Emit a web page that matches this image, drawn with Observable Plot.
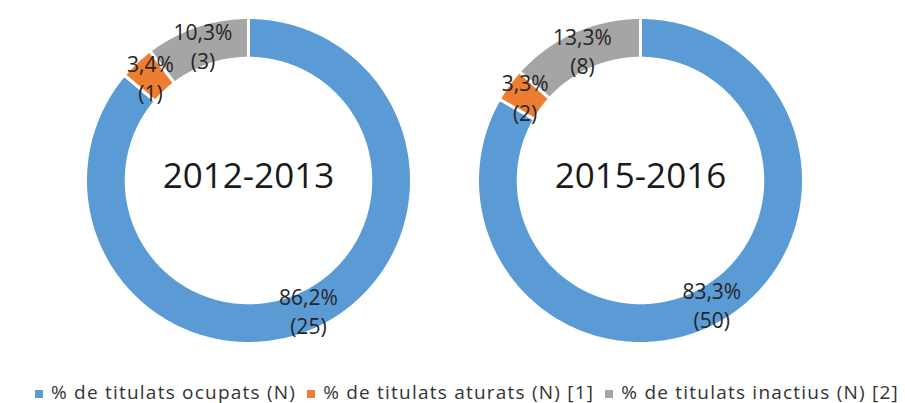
<!DOCTYPE html>
<html><head><meta charset="utf-8">
<script src="https://cdn.jsdelivr.net/npm/d3@7"></script>
<script src="https://cdn.jsdelivr.net/npm/@observablehq/plot@0.6"></script>
<style>
body{margin:0;background:#fff;font-family:"Open Sans",sans-serif;}
#legend{margin-top:15.6px;height:22px;line-height:22px;font-size:19px;letter-spacing:1.22px;padding-left:35px;white-space:nowrap;color:#333;}
#legend .item{display:inline-block;margin-right:11px;}
#legend .sw{display:inline-block;width:8px;height:8px;margin-right:8px;position:relative;top:-1px;}
</style></head>
<body><div id="chart"></div><div id="legend"></div>
<script>
const periods = ["2012-2013", "2015-2016"];
const categories = ["% de titulats ocupats (N)", "% de titulats aturats (N) [1]", "% de titulats inactius (N) [2]"];
const colors = ["#5B9BD5", "#ED7D31", "#A5A5A5"];
const counts2012 = [25, 1, 3];
const counts2015 = [50, 2, 8];
const pct2012 = ["86,2%", "3,4%", "10,3%"];
const pct2015 = ["83,3%", "3,3%", "13,3%"];

const R1 = 1, R0 = 0.75;
const series = [
  {period: periods[0], counts: counts2012, pct: pct2012},
  {period: periods[1], counts: counts2015, pct: pct2015}
];
const arcPts = [], labels = [];
for (const s of series) {
  const total = d3.sum(s.counts);
  let cum = 0;
  s.counts.forEach((n, i) => {
    const a0 = cum / total * 2 * Math.PI, a1 = (cum + n) / total * 2 * Math.PI;
    cum += n;
    const id = s.period + "-" + i;
    const steps = Math.max(2, Math.ceil((a1 - a0) / (Math.PI / 180)));
    for (let k = 0; k <= steps; k++) {
      const a = a0 + (a1 - a0) * k / steps;
      arcPts.push({id, period: s.period, cat: categories[i], x: R1 * Math.sin(a), y: R1 * Math.cos(a)});
    }
    for (let k = steps; k >= 0; k--) {
      const a = a0 + (a1 - a0) * k / steps;
      arcPts.push({id, period: s.period, cat: categories[i], x: R0 * Math.sin(a), y: R0 * Math.cos(a)});
    }
    const am = (a0 + a1) / 2, rm = (R0 + R1) / 2;
    labels.push({period: s.period, x: rm * Math.sin(am), y: rm * Math.cos(am), text: s.pct[i] + "\n(" + n + ")"});
  });
}

const chart = Plot.plot({
  width: 905, height: 365,
  marginLeft: 77.5, marginRight: 95, marginTop: 10, marginBottom: 15,
  fx: {domain: periods, paddingInner: 0.1338, paddingOuter: 0, axis: null, label: null},
  x: {domain: [-1.043, 1.043], axis: null},
  y: {domain: [-1.043, 1.043], axis: null},
  color: {domain: categories, range: colors},
  style: {fontFamily: "'Open Sans', sans-serif", background: "white"},
  marks: [
    Plot.line(arcPts, {fx: "period", x: "x", y: "y", z: "id", fill: "cat", stroke: "white", strokeWidth: 3, curve: "linear-closed"}),
    Plot.text(periods, {fx: d => d, frameAnchor: "middle", text: d => d, fontSize: 35, dy: -4, fill: "#1a1a1a"}),
    Plot.text(labels, {fx: "period", x: "x", y: "y", text: "text", fontSize: 21, lineHeight: 1.4, fill: "#262626"})
  ]
});
document.getElementById("chart").appendChild(chart);

const legend = d3.select("#legend");
categories.forEach((c, i) => {
  const item = legend.append("span").attr("class", "item");
  item.append("span").attr("class", "sw").style("background", colors[i]);
  item.append("span").text(c);
});
</script>
</body></html>
